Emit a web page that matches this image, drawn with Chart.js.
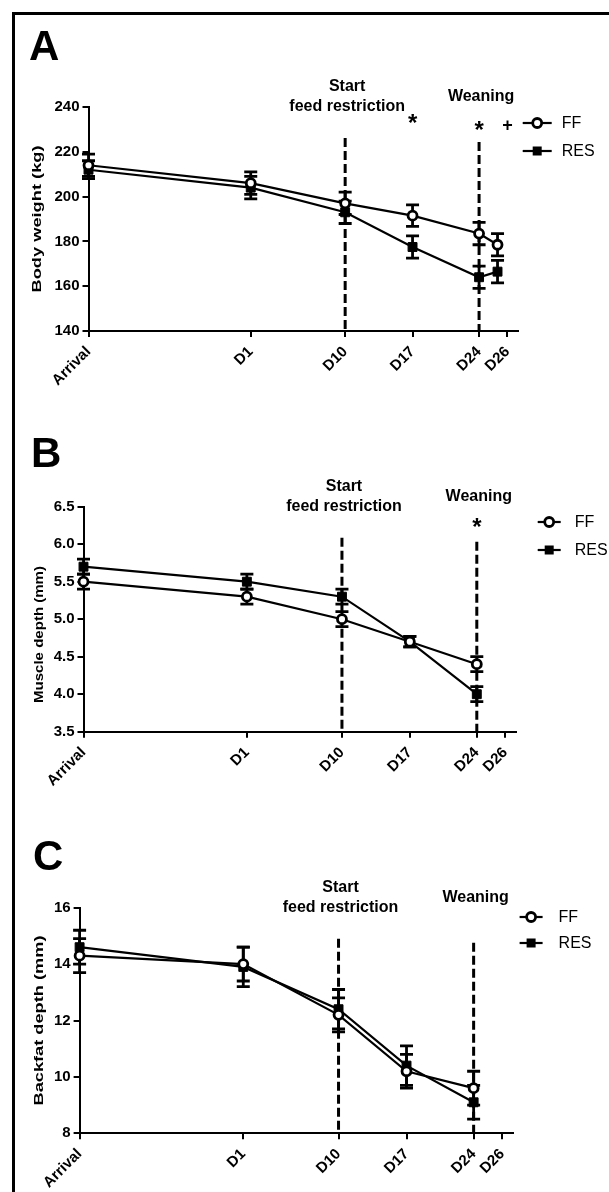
<!DOCTYPE html>
<html>
<head>
<meta charset="utf-8">
<script src="https://cdn.jsdelivr.net/npm/chart.js@4.4.1/dist/chart.umd.min.js"></script>
<style>
html, body { margin: 0; padding: 0; background: #fff; overflow: hidden; }
#wrap { position: relative; width: 609px; height: 1192px; overflow: hidden; }
#frame { position: absolute; left: 12px; top: 12px; width: 700px; height: 1300px;
         border-left: 3px solid #000; border-top: 3px solid #000; }
canvas { position: absolute; left: 0; }
</style>
</head>
<body>
<div id="wrap">
  <div id="frame"></div>
  <canvas id="cA" width="609" height="400" style="top:0px;width:609px;height:400px"></canvas>
  <canvas id="cB" width="609" height="410" style="top:390px;width:609px;height:410px"></canvas>
  <canvas id="cC" width="609" height="412" style="top:780px;width:609px;height:412px"></canvas>
</div>
<script>
// time points and where they sit along the (uneven) x axis, 0..100
const dayLabels = ['Arrival', 'D1', 'D10', 'D17', 'D24', 'D26'];
const tickPos = [0, 37.8, 59.8, 75.5, 91.0, 97.6];
// the D26 measurements are plotted a little left of their tick in the original
const pointPos = [0, 37.8, 59.8, 75.5, 91.0, 95.3];
const eventIdx = [2, 4];
const eventText = [['Start', 'feed restriction'], ['Weaning']];

// A - body weight (kg), mean and SEM
const bwFF = [214, 206, 197, 191.5, 183.5, 178.5];
const bwFFse = [5, 5, 5, 4.8, 5, 5];
const bwRES = [212, 204, 193, 177.5, 164, 166.5];
const bwRESse = [4, 5, 5, 5, 5, 5];
const bwSig = ['', '', '', '*', '*', '+'];

// B - muscle depth (mm)
const mdFF = [5.5, 5.3, 5.0, 4.7, 4.4];
const mdFFse = [0.1, 0.1, 0.1, 0.07, 0.1];
const mdRES = [5.7, 5.5, 5.3, 4.7, 4.0];
const mdRESse = [0.1, 0.1, 0.1, 0.07, 0.1];
const mdSig = ['', '', '', '', '*'];

// C - backfat depth (mm)
const bfFF = [14.3, 14.0, 12.2, 10.2, 9.6];
const bfFFse = [0.6, 0.6, 0.6, 0.6, 0.6];
const bfRES = [14.6, 13.9, 12.4, 10.4, 9.1];
const bfRESse = [0.6, 0.7, 0.7, 0.7, 0.6];
const bfSig = ['', '', '', '', ''];

const FONT = "'Liberation Sans', Arial, sans-serif";
const NARROW = "'Liberation Sans Narrow', 'Liberation Sans', Arial, sans-serif";

function drawMarker(ctx, style, x, y) {
    ctx.beginPath();
    if (style === 'circle') {
        ctx.arc(x, y, 4.5, 0, Math.PI * 2);
        ctx.fillStyle = '#fff';
        ctx.fill();
        ctx.lineWidth = 2.8;
        ctx.stroke();
    } else {
        ctx.fillStyle = '#000';
        ctx.fillRect(x - 4.5, y - 4.5, 9, 9);
    }
}

function centerText(ctx, t, x, y) {
    const m = ctx.measureText(t);
    ctx.textBaseline = 'alphabetic';
    ctx.fillText(t, x, y + (m.actualBoundingBoxAscent - m.actualBoundingBoxDescent) / 2);
}

function panelPlugin(p) {
    return {
        id: 'panel' + p.letter,
        beforeDatasetsDraw(chart) {
            const { ctx, chartArea: a, scales: { x, y } } = chart;
            ctx.save();
            ctx.strokeStyle = '#000';
            // event lines
            ctx.lineWidth = 3;
            ctx.setLineDash([9, 4]);
            eventIdx.forEach((idx, k) => {
                const px = x.getPixelForValue(tickPos[idx]);
                ctx.beginPath();
                ctx.moveTo(px, a.top + p.dashTop[k]);
                ctx.lineTo(px, a.bottom);
                ctx.stroke();
            });
            // error bars
            ctx.setLineDash([]);
            ctx.lineWidth = 2.8;
            chart.data.datasets.forEach((ds, d) => {
                ds.data.forEach((pt, i) => {
                    const e = p.errors[d][i];
                    const px = x.getPixelForValue(pt.x);
                    const t = y.getPixelForValue(pt.y + e);
                    const b = y.getPixelForValue(pt.y - e);
                    ctx.beginPath();
                    ctx.moveTo(px, t); ctx.lineTo(px, b);
                    ctx.moveTo(px - 6.5, t); ctx.lineTo(px + 6.5, t);
                    ctx.moveTo(px - 6.5, b); ctx.lineTo(px + 6.5, b);
                    ctx.stroke();
                });
            });
            ctx.restore();
        },
        afterDraw(chart) {
            const { ctx, chartArea: a, scales: { x } } = chart;
            ctx.save();
            ctx.fillStyle = '#000';
            ctx.strokeStyle = '#000';

            // panel letter
            ctx.font = `bold 42px ${FONT}`;
            ctx.textAlign = 'left';
            ctx.textBaseline = 'alphabetic';
            ctx.fillText(p.letter, p.letterX, p.letterY);

            // y axis title, stretched along its length like the original
            ctx.save();
            ctx.translate(p.titleX, p.titleY);
            ctx.rotate(-Math.PI / 2);
            ctx.font = `bold 13px ${FONT}`;
            const tw = ctx.measureText(p.title).width;
            ctx.scale(p.titleLen / tw, 1);
            ctx.textAlign = 'center';
            ctx.textBaseline = 'middle';
            ctx.fillText(p.title, 0, 0);
            ctx.restore();

            // event labels
            ctx.font = `bold 16px ${FONT}`;
            ctx.textAlign = 'center';
            ctx.textBaseline = 'middle';
            eventIdx.forEach((idx, k) => {
                const px = x.getPixelForValue(tickPos[idx]) + 2;
                const lines = eventText[k];
                lines.forEach((t, j) => {
                    ctx.fillText(t, px, a.top - 10 - 10 * (lines.length - 1) + 20 * j);
                });
            });

            // significance marks
            ctx.textAlign = 'center';
            p.sig.forEach((s, i) => {
                if (!s) return;
                ctx.font = s === '*' ? `bold 24px ${FONT}` : `bold 18px ${FONT}`;
                centerText(ctx, s, x.getPixelForValue(tickPos[i]), p.sigY);
            });

            // legend
            const items = [['FF', 'circle'], ['RES', 'rect']];
            items.forEach(([lab, style], k) => {
                const ly = p.legY[k];
                ctx.lineWidth = 2.2;
                ctx.beginPath();
                ctx.moveTo(a.right + p.legX0, ly);
                ctx.lineTo(a.right + p.legX1, ly);
                ctx.stroke();
                drawMarker(ctx, style, a.right + (p.legX0 + p.legX1) / 2, ly);
                ctx.fillStyle = '#000';
                ctx.font = `16px ${FONT}`;
                ctx.textAlign = 'left';
                ctx.textBaseline = 'middle';
                ctx.fillText(lab, a.right + p.legText, ly + 1);
            });
            ctx.restore();
        }
    };
}

function makePanel(p) {
    const canvas = document.getElementById(p.id);
    const H = canvas.height;
    const XH = Math.floor(H - p.area.bottom - 1);
    const tickFont = { family: NARROW, weight: 'bold', size: 15 };
    const pts = (vals) => vals.map((v, i) => ({ x: pointPos[i], y: v }));
    const common = { borderColor: '#000', borderWidth: 2.2, tension: 0, fill: false, clip: false,
                     pointBorderColor: '#000' };
    new Chart(canvas.getContext('2d'), {
        type: 'line',
        data: {
            datasets: [
                Object.assign({ label: 'FF', data: pts(p.ff), pointStyle: 'circle', pointRadius: 4.5,
                                pointBorderWidth: 2.8, pointBackgroundColor: '#fff' }, common),
                Object.assign({ label: 'RES', data: pts(p.res), pointStyle: 'rect', pointRadius: 6.3,
                                pointBorderWidth: 1, pointBackgroundColor: '#000' }, common)
            ]
        },
        options: {
            responsive: false,
            animation: false,
            events: [],
            layout: { padding: { left: 0, right: 609 - p.area.right, top: p.area.top,
                                 bottom: H - p.area.bottom - XH } },
            plugins: { legend: { display: false }, tooltip: { enabled: false } },
            scales: {
                x: {
                    type: 'linear', min: 0, max: 100,
                    afterFit(s) { s.height = XH; },
                    afterBuildTicks(s) { s.ticks = tickPos.map(v => ({ value: v })); },
                    ticks: { autoSkip: false, minRotation: 45, maxRotation: 45, color: '#000',
                             font: tickFont, padding: 6,
                             callback: (v, i) => dayLabels[i] },
                    grid: { drawOnChartArea: false, drawTicks: true, tickLength: 6, color: '#000', lineWidth: 2 },
                    border: { display: true, color: '#000', width: 2 }
                },
                y: {
                    min: p.yMin, max: p.yMax,
                    afterFit(s) { s.width = p.area.left; },
                    ticks: { stepSize: p.yStep, color: '#000', font: tickFont, padding: 3,
                             callback: (v) => v.toFixed(p.yDec) },
                    grid: { drawOnChartArea: false, drawTicks: true, tickLength: 6, color: '#000', lineWidth: 2 },
                    border: { display: true, color: '#000', width: 2 }
                }
            }
        },
        plugins: [panelPlugin(p)]
    });
}

makePanel({
    id: 'cA', letter: 'A', title: 'Body weight (kg)',
    ff: bwFF, res: bwRES, errors: [bwFFse, bwRESse], sig: bwSig,
    yMin: 140, yMax: 240, yStep: 20, yDec: 0,
    area: { left: 88.5, right: 517.7, top: 107, bottom: 331 },
    letterX: 29, letterY: 60, titleX: 37, titleY: 219, titleLen: 147,
    dashTop: [31, 35], sigY: 125,
    legX0: 5, legX1: 34, legText: 44, legY: [123, 151]
});

makePanel({
    id: 'cB', letter: 'B', title: 'Muscle depth (mm)',
    ff: mdFF, res: mdRES, errors: [mdFFse, mdRESse], sig: mdSig,
    yMin: 3.5, yMax: 6.5, yStep: 0.5, yDec: 1,
    area: { left: 83.5, right: 515.7, top: 116.7, bottom: 341.7 },
    letterX: 31, letterY: 77, titleX: 39, titleY: 244.5, titleLen: 137,
    dashTop: [31, 35], sigY: 139,
    legX0: 22, legX1: 45, legText: 59, legY: [132, 160]
});

makePanel({
    id: 'cC', letter: 'C', title: 'Backfat depth (mm)',
    ff: bfFF, res: bfRES, errors: [bfFFse, bfRESse], sig: bfSig,
    yMin: 8, yMax: 16, yStep: 2, yDec: 0,
    area: { left: 79.6, right: 512.6, top: 127.7, bottom: 353.3 },
    letterX: 33, letterY: 90, titleX: 39, titleY: 240.5, titleLen: 170,
    dashTop: [31, 35], sigY: 137,
    legX0: 7, legX1: 30, legText: 46, legY: [137, 163]
});
</script>
</body>
</html>
